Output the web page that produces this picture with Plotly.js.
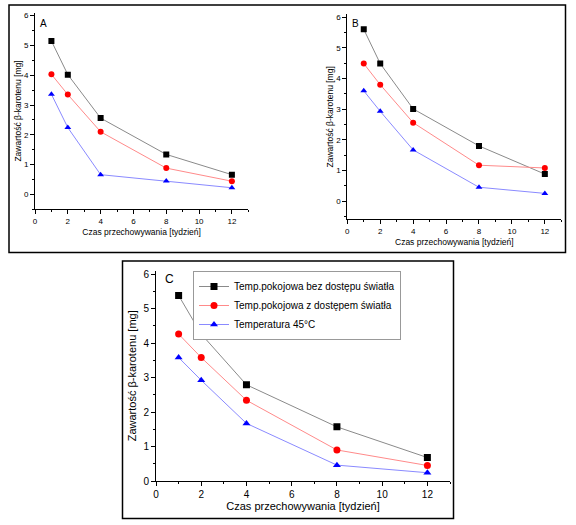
<!DOCTYPE html>
<html>
<head>
<meta charset="utf-8">
<script src="https://cdn.plot.ly/plotly-3.0.1.min.js"></script>
<style>html,body{margin:0;padding:0;background:#fff;}#chart{width:576px;height:525px;}</style>
</head>
<body>
<div id="chart"></div>
<script>
// ---- data ----
const weeks = [1, 2, 4, 8, 12];
const seriesNames = [
  "Temp.pokojowa bez dostępu światła",
  "Temp.pokojowa z dostępem światła",
  "Temperatura 45°C"
];
const panelA_dark  = [5.15, 4.02, 2.56, 1.34, 0.66];
const panelA_light = [4.03, 3.35, 2.10, 0.88, 0.44];
const panelA_45C   = [3.36, 2.24, 0.66, 0.45, 0.22];
const panelB_dark  = [5.61, 4.49, 3.01, 1.80, 0.88];
const panelB_light = [4.49, 3.80, 2.56, 1.17, 1.08];
const panelB_45C   = [3.60, 2.93, 1.67, 0.45, 0.25];
const panelC_dark  = [5.38, 4.26, 2.79, 1.57, 0.68];
const panelC_light = [4.26, 3.58, 2.34, 0.90, 0.45];
const panelC_45C   = [3.58, 2.92, 1.67, 0.46, 0.24];
const panelLabels = ["A", "B", "C"];
const xTitle = "Czas przechowywania [tydzień]";
const yTitle = "Zawartość β-karotenu [mg]";

// ---- styles ----
const W = 576, H = 525;
const styles = [
  {marker: {symbol: "square", color: "#000000"}, line: "#8a8a8a"},
  {marker: {symbol: "circle", color: "#ff0000"}, line: "#ff8a8a"},
  {marker: {symbol: "triangle-up", color: "#0000ff"}, line: "#8a8aff"}
];
const panels = [
  {data: [panelA_dark, panelA_light, panelA_45C], xa: "x", ya: "y", msize: 6, legend: false},
  {data: [panelB_dark, panelB_light, panelB_45C], xa: "x2", ya: "y2", msize: 6, legend: false},
  {data: [panelC_dark, panelC_light, panelC_45C], xa: "x3", ya: "y3", msize: 7, legend: true}
];
const traces = [];
panels.forEach(p => {
  p.data.forEach((vals, i) => {
    traces.push({
      type: "scatter", mode: "lines+markers",
      x: weeks, y: vals, xaxis: p.xa, yaxis: p.ya,
      name: seriesNames[i], showlegend: p.legend,
      line: {color: styles[i].line, width: 1},
      marker: {symbol: styles[i].marker.symbol, color: styles[i].marker.color, size: p.msize}
    });
  });
});

const px = v => v / W;
const py = v => 1 - v / H;
const FONT = "Liberation Sans, Arial, sans-serif";

function xaxis(dom, fs, tfs, stand) {
  return {
    domain: dom, range: [0, 13], tickvals: [0, 2, 4, 6, 8, 10, 12],
    ticks: "outside", ticklen: 4, tickwidth: 1, tickcolor: "#000",
    minor: {tickvals: [1, 3, 5, 7, 9, 11, 13], ticks: "outside", ticklen: 2, tickcolor: "#000"},
    showline: true, linecolor: "#000", linewidth: 1, showgrid: false, zeroline: false,
    tickfont: {family: FONT, size: fs, color: "#000"},
    title: {text: xTitle, font: {family: FONT, size: tfs, color: "#000"}, standoff: stand},
    automargin: false, fixedrange: true
  };
}
function yaxis(dom, rng, fs, tfs, anchor, stand) {
  return {
    domain: dom, range: rng, tickvals: [0, 1, 2, 3, 4, 5, 6], anchor: anchor,
    ticks: "outside", ticklen: 4, tickwidth: 1, tickcolor: "#000",
    minor: {dtick: 0.5, ticks: "outside", ticklen: 2, tickcolor: "#000"},
    showline: true, linecolor: "#000", linewidth: 1, showgrid: false, zeroline: false,
    tickfont: {family: FONT, size: fs, color: "#000"},
    title: {text: yTitle, font: {family: FONT, size: tfs, color: "#000"}, standoff: stand},
    automargin: false, fixedrange: true
  };
}

function label(text, x, y, size) {
  return {text: text, xref: "paper", yref: "paper", x: px(x), y: py(y),
          xanchor: "center", yanchor: "middle", showarrow: false,
          font: {family: FONT, size: size, color: "#000"}};
}

const layout = {
  width: W, height: H,
  margin: {l: 0, r: 0, t: 0, b: 0, pad: 0},
  paper_bgcolor: "#ffffff", plot_bgcolor: "rgba(0,0,0,0)",
  showlegend: true,
  legend: {
    x: px(193), y: py(271), xanchor: "left", yanchor: "top",
    bgcolor: "#ffffff", bordercolor: "#999999", borderwidth: 1,
    font: {family: FONT, size: 10, color: "#000"},
    itemwidth: 30, tracegroupgap: 0
  },
  xaxis:  Object.assign(xaxis([px(35), px(248.3)], 8, 8.5, 4), {anchor: "y"}),
  yaxis:  yaxis([py(209.2), py(12.7)], [-0.5, 6.1], 8, 8.5, "x", 0),
  xaxis2: Object.assign(xaxis([px(347.3), px(561.3)], 8, 8.5, 4), {anchor: "y2"}),
  yaxis2: yaxis([py(219.4), py(14.3)], [-0.6, 6.1], 8, 8.5, "x2", 1),
  xaxis3: Object.assign(xaxis([px(156), px(450)], 10, 11, 1), {anchor: "y3"}),
  yaxis3: yaxis([py(481), py(270.6)], [0, 6.1], 10, 11, "x3", 4),
  shapes: [
    {type: "rect", xref: "paper", yref: "paper", x0: px(9), x1: px(565.5), y0: py(252.5), y1: py(5),
     line: {color: "#000", width: 1.5}},
    {type: "rect", xref: "paper", yref: "paper", x0: px(122.5), x1: px(453.5), y0: py(518.5), y1: py(261),
     line: {color: "#000", width: 1.5}}
  ],
  annotations: [
    label(panelLabels[0], 43, 24, 10),
    label(panelLabels[1], 355, 23, 10),
    label(panelLabels[2], 169, 279, 12)
  ]
};

Plotly.newPlot("chart", traces, layout, {staticPlot: true, displayModeBar: false});
</script>
</body>
</html>
